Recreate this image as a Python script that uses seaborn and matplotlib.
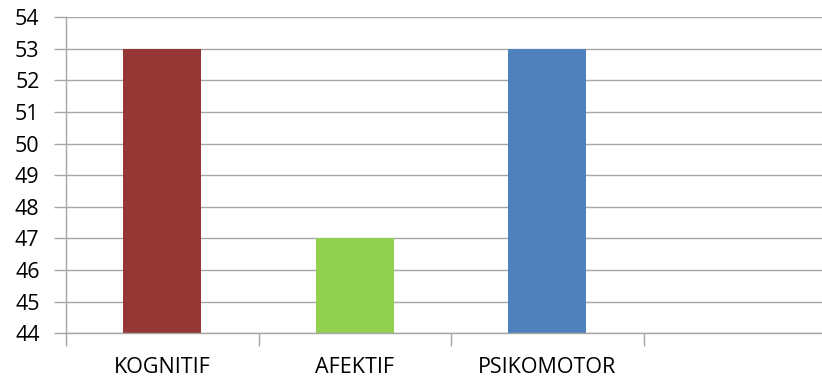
import matplotlib
matplotlib.use("Agg")
import matplotlib.pyplot as plt
import seaborn as sns

categories = ["KOGNITIF", "AFEKTIF", "PSIKOMOTOR"]
values = [53, 47, 53]
colors = ["#953735", "#92D050", "#4F81BD"]
yticks = list(range(44, 55))

sns.set_style("white")
plt.rcParams['font.family'] = ['Open Sans', 'DejaVu Sans']

fig = plt.figure(figsize=(8.22, 3.8), dpi=100)
ax = fig.add_axes([66/822, (380-333.3)/380, 770/822, (333.3-17)/380])

sns.barplot(x=categories, y=values, hue=categories, palette=colors,
            width=0.405, legend=False, ax=ax, saturation=1, linewidth=0)

grid_c = "#a6a6a6"
ax.set_ylim(44, 54)
ax.set_xlim(-0.5, 3.5)
ax.set_yticks(yticks)
ax.set_yticklabels([str(t) for t in yticks], fontsize=15.5, color="black")
ax.yaxis.grid(True, color=grid_c, linewidth=1.0)
ax.set_axisbelow(True)
ax.tick_params(axis='y', length=9, width=1.0, color=grid_c, pad=10, left=True)

ax.set_xticks([0, 1, 2])
ax.set_xticklabels(categories, fontsize=15.5, color="black")
ax.set_xticks([-0.5, 0.5, 1.5, 2.5, 3.5], minor=True)
ax.tick_params(axis='x', which='major', length=0, pad=17)
ax.tick_params(axis='x', which='minor', length=9, width=1.0, color=grid_c, bottom=True)

for s in ["top", "right"]:
    ax.spines[s].set_visible(False)
for s in ["left", "bottom"]:
    ax.spines[s].set_color(grid_c)
    ax.spines[s].set_linewidth(1.0)

ax.set_xlabel("")
ax.set_ylabel("")

fig.savefig("out.png", dpi=100)
